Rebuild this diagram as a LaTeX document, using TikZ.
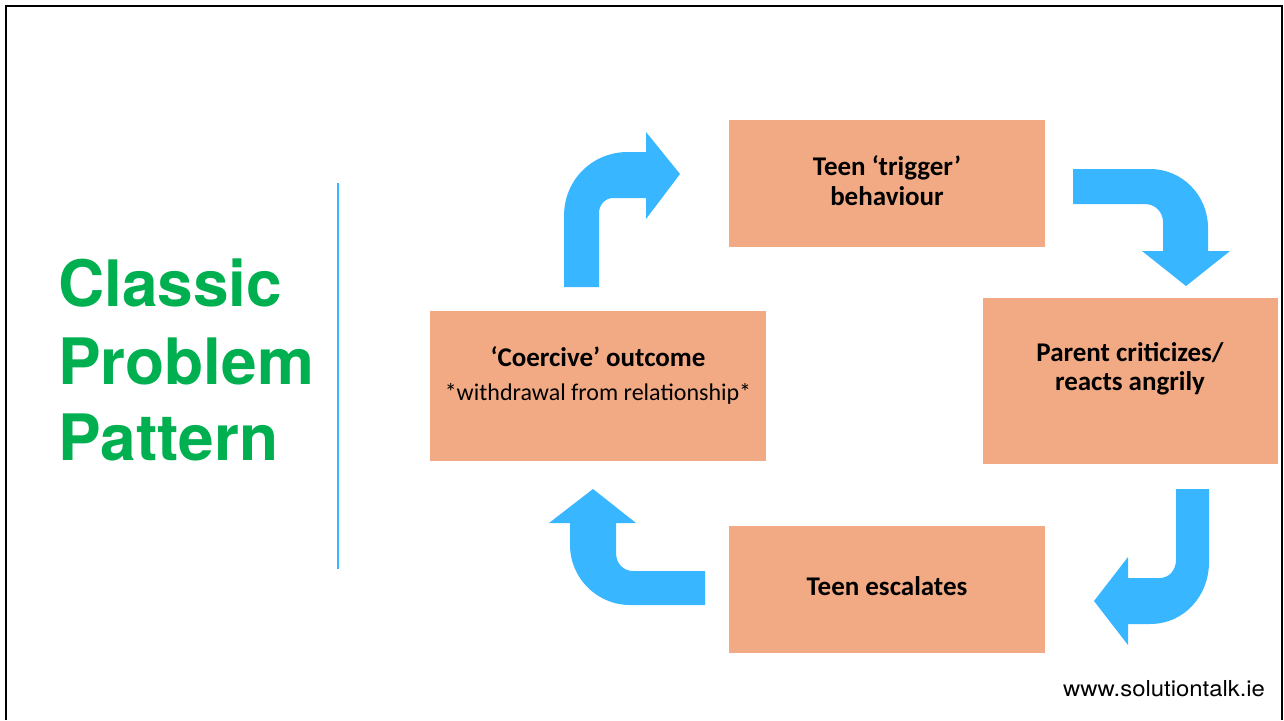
\documentclass[tikz,border=0pt]{standalone}
\usepackage{fontspec}
\setmainfont{Carlito}
\newfontfamily\titlefont{TeX Gyre Heros}
\definecolor{arrowc}{HTML}{38B6FF}
\definecolor{boxc}{HTML}{F2AA84}
\definecolor{titlec}{HTML}{00B050}
\begin{document}
\begin{tikzpicture}[x=1pt,y=-1pt,
  box/.style={fill=boxc, draw=none, inner sep=0pt},
  lbl/.style={anchor=base, inner sep=0pt, font=\fontsize{27}{30}\selectfont\bfseries},
  sublbl/.style={anchor=base, inner sep=0pt, font=\fontsize{24}{28}\selectfont},
  ttl/.style={anchor=base west, inner sep=0pt, text=titlec, font=\titlefont\fontsize{64}{70}\selectfont\bfseries},
  bent/.style={fill=arrowc, draw=none}]
\useasboundingbox (0,0) rectangle (1284,720);
\fill[white] (0,0) rectangle (1284,720);
% frame
\draw[line width=2.5pt, black] (6,720) -- (6,6) -- (1282,6) -- (1282,720);
% title
\node[ttl] (c1) at (58,306) {Classic};
\node[ttl] (c2) at (58,384) {Problem};
\node[ttl] (c3) at (58,460) {Pattern};
% divider
\draw[arrowc, line width=2.5pt] (338,183) -- (338,569);
% boxes
\node[box, minimum width=316pt, minimum height=127pt] (top) at (887,183.5) {};
\node[box, minimum width=295pt, minimum height=166pt] (right) at (1130.5,381) {};
\node[box, minimum width=316pt, minimum height=127pt] (bottom) at (887,589.5) {};
\node[box, minimum width=336pt, minimum height=150pt] (left) at (598,386) {};
% labels
\node[lbl] (t1) at (887,175) {Teen ‘trigger’};
\node[lbl] (t2) at (887,205) {behaviour};
\node[lbl] (r1) at (1130,361) {Parent criticizes/};
\node[lbl] (r2) at (1130,390) {reacts angrily};
\node[lbl] (b1) at (887,595) {Teen escalates};
\node[lbl] (l1) at (598,366) {‘Coercive’ outcome};
\node[sublbl] (l2) at (598,400) {*withdrawal from relationship*};
% bent arrows
\fill[bent] (564,287) -- (564,216) .. controls (564,180) and (592,152) .. (628,152) -- (646,152) -- (646,132) -- (680,174) -- (646,219) -- (646,198) -- (613,198) .. controls (605,198) and (599,205) .. (599,213) -- (599,287) -- cycle;
\fill[bent] (1073,169) -- (1150,169) .. controls (1182,169) and (1208,195) .. (1208,228) -- (1208,251) -- (1230,251) -- (1186,286) -- (1142,251) -- (1163,251) -- (1163,222) .. controls (1163,212) and (1155,204) .. (1145,204) -- (1073,204) -- cycle;
\fill[bent] (1176,489) -- (1209,489) -- (1209,562) .. controls (1209,596) and (1184,624) .. (1150,624) -- (1128,624) -- (1128,645) -- (1094,601) -- (1128,557) -- (1128,578) -- (1160,578) .. controls (1169,578) and (1176,570) .. (1176,560) -- cycle;
\fill[bent] (705,571) -- (633,571) .. controls (623,571) and (616,563) .. (616,553) -- (616,523) -- (636,523) -- (593,489) -- (549,523) -- (570,523) -- (570,545) .. controls (570,578) and (597,605) .. (630,605) -- (705,605) -- cycle;
% url
\node[anchor=base west, inner sep=0pt, font=\titlefont\fontsize{22}{24}\selectfont] (url) at (1063,696) {\scalebox{1.085}[1]{www.solutiontalk.ie}};
\end{tikzpicture}
\end{document}
